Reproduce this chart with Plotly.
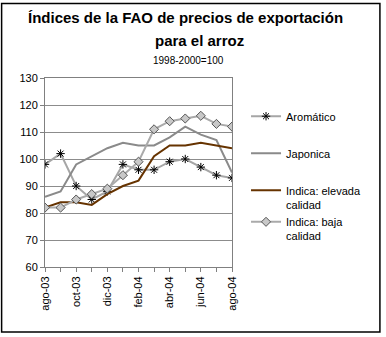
import plotly.graph_objects as go

# monthly index values, 1998-2000 = 100
months = ["ago-03", "sep-03", "oct-03", "nov-03", "dic-03", "ene-04", "feb-04",
          "mar-04", "abr-04", "may-04", "jun-04", "jul-04", "ago-04"]
aromatico = [98, 102, 90, 85, 88, 98, 96, 96, 99, 100, 97, 94, 93]
japonica = [86, 88, 98, 101, 104, 106, 105, 105, 108, 112, 109, 107, 95]
indica_elevada = [82, 84, 84, 83, 87, 90, 92, 101, 105, 105, 106, 105, 104]
indica_baja = [82, 82, 85, 87, 89, 94, 99, 111, 114, 115, 116, 113, 112]

tick_text = [m if i % 2 == 0 else "" for i, m in enumerate(months)]

FONT = "Liberation Sans, Arial, sans-serif"

fig = go.Figure()
fig.add_trace(go.Scatter(x=months, y=aromatico, name="Aromático", mode="lines+markers",
                         legendgroup="a",
                         line=dict(color="#a6a6a6", width=2),
                         marker=dict(symbol="asterisk-open", size=7, color="black",
                                     line=dict(color="black", width=1))))
fig.add_trace(go.Scatter(x=months, y=japonica, name="Japonica", mode="lines",
                         legendgroup="j",
                         line=dict(color="#8a8a8a", width=2)))
fig.add_trace(go.Scatter(x=months, y=indica_elevada, name="Indica: elevada<br>calidad",
                         mode="lines", legendgroup="i",
                         line=dict(color="#663300", width=2)))
fig.add_trace(go.Scatter(x=months, y=indica_baja, name="Indica: baja<br>calidad",
                         mode="lines+markers", legendgroup="i",
                         line=dict(color="#aaaaaa", width=2),
                         marker=dict(symbol="diamond", size=7, color="#c8c8c8",
                                     line=dict(color="#555555", width=1))))

fig.update_layout(
    width=386, height=337,
    margin=dict(l=45, r=154, t=78, b=70),
    paper_bgcolor="white", plot_bgcolor="white",
    font=dict(family=FONT, size=11, color="black"),
    showlegend=True,
    legend=dict(x=1.075, y=0.87, xanchor="left", yanchor="top",
                font=dict(size=11), valign="top", traceorder="grouped",
                groupclick="toggleitem",
                tracegroupgap=18, itemwidth=30, bgcolor="rgba(0,0,0,0)"),
)

fig.update_xaxes(type="category", range=[0, 12], tickvals=months, ticktext=tick_text,
                 tickangle=-90, ticks="outside", ticklen=4, tickcolor="#808080",
                 showline=True, linecolor="#808080", linewidth=1, mirror=True,
                 showgrid=False, tickfont=dict(size=11))
fig.update_yaxes(range=[60, 130], dtick=10, ticks="outside", ticklen=4,
                 tickcolor="#808080", showline=True, linecolor="#808080",
                 linewidth=1, mirror=True, showgrid=True, gridcolor="#8c8c8c",
                 gridwidth=1, zeroline=False, tickfont=dict(size=11))

# title (two lines) and subtitle
fig.add_annotation(text="<b>Índices de la FAO de precios de exportación</b>",
                   xref="paper", yref="paper", x=0.754, y=1.322, xanchor="center",
                   yanchor="middle", showarrow=False, font=dict(size=15, family=FONT))
fig.add_annotation(text="<b>para el arroz</b>",
                   xref="paper", yref="paper", x=0.824, y=1.2, xanchor="center",
                   yanchor="middle", showarrow=False, font=dict(size=15, family=FONT))
fig.add_annotation(text="1998-2000=100", xref="paper", yref="paper", x=0.77, y=1.09,
                   xanchor="center", yanchor="middle", showarrow=False,
                   font=dict(size=10, family=FONT))

# outer chart frame
fig.add_shape(type="rect", xref="paper", yref="paper",
              x0=-0.232, x1=1.791, y0=-0.344, y1=1.394,
              line=dict(color="black", width=1.5), fillcolor="rgba(0,0,0,0)")

fig.write_html("out.html", config={"displayModeBar": False},
               post_script="document.body.style.margin='0';")
